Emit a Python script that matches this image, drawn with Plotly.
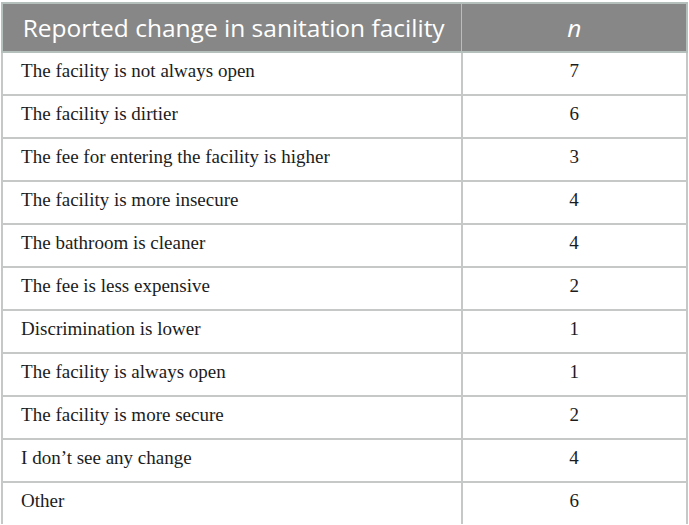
import plotly.graph_objects as go

# Table content
changes = [
    "The facility is not always open",
    "The facility is dirtier",
    "The fee for entering the facility is higher",
    "The facility is more insecure",
    "The bathroom is cleaner",
    "The fee is less expensive",
    "Discrimination is lower",
    "The facility is always open",
    "The facility is more secure",
    "I don\u2019t see any change",
    "Other",
]
counts = [7, 6, 3, 4, 4, 2, 1, 1, 2, 4, 6]
header_labels = ["Reported change in sanitation facility", "<i>n</i>"]


def wrap(s):
    # an html tag makes plotly centre the line vertically in its cell
    return "<span>" + str(s) + "</span>"


fig = go.Figure(go.Table(
    domain=dict(x=[0, 1], y=[0, 1]),
    columnwidth=[461, 226],
    header=dict(
        values=[wrap("  " + header_labels[0]), header_labels[1]],
        fill_color="#878787",
        line=dict(color="#b5bfbb", width=1.5),
        align=["left", "center"],
        font=dict(family="Open Sans", size=24.5, color="white"),
        height=45,
    ),
    cells=dict(
        values=[[wrap("\u2002\u200a" + c) for c in changes], [wrap(v) for v in counts]],
        fill_color="white",
        line=dict(color="#c6c8c7", width=1.8),
        align=["left", "center"],
        font=dict(family="Liberation Serif", size=19, color="#1c1c1c"),
        height=43,
    ),
))

fig.update_layout(
    width=689,
    height=525,
    margin=dict(l=2, r=2, t=3, b=1),
    paper_bgcolor="white",
)

fig.write_html("out.html", config={"displayModeBar": False},
               post_script="document.body.style.margin='0';")
